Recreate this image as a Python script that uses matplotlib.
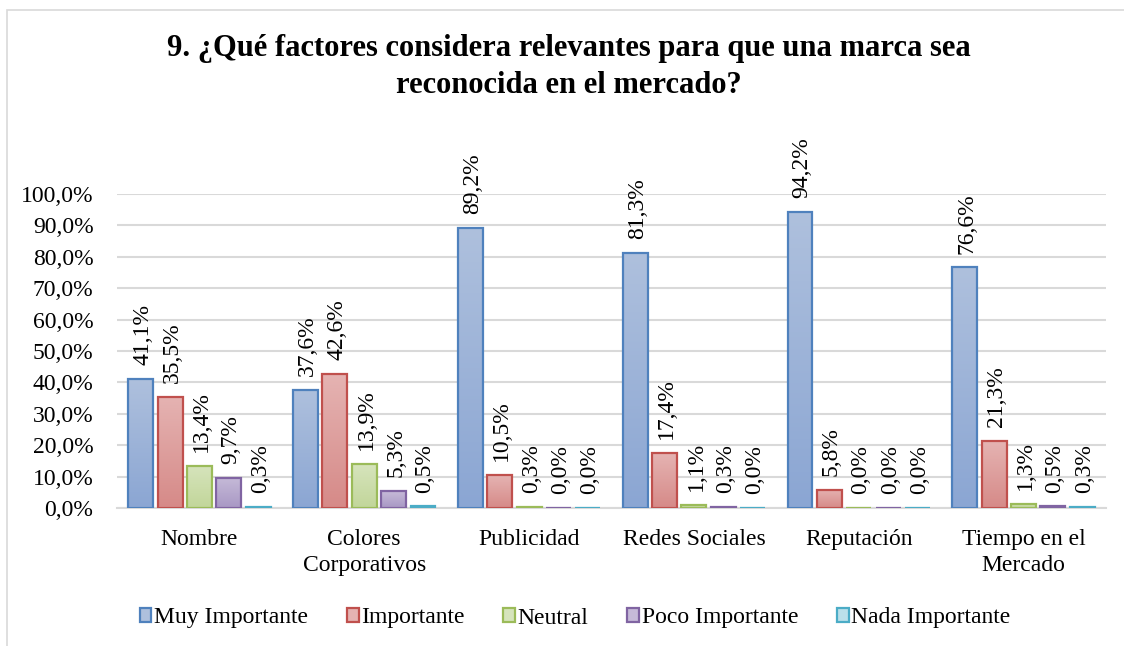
import numpy as np
import matplotlib
matplotlib.use("Agg")
import matplotlib.pyplot as plt
from matplotlib.patches import Rectangle, Patch
from matplotlib.colors import LinearSegmentedColormap

plt.rcParams['font.family'] = ['Liberation Serif', 'DejaVu Serif']

categories = ["Nombre", "Colores\nCorporativos", "Publicidad", "Redes Sociales",
              "Reputación", "Tiempo en el\nMercado"]
series_names = ["Muy Importante", "Importante", "Neutral", "Poco Importante", "Nada Importante"]
muy_importante = [41.1, 37.6, 89.2, 81.3, 94.2, 76.6]
importante = [35.5, 42.6, 10.5, 17.4, 5.8, 21.3]
neutral = [13.4, 13.9, 0.3, 1.1, 0.0, 1.3]
poco_importante = [9.7, 5.3, 0.0, 0.3, 0.0, 0.5]
nada_importante = [0.3, 0.5, 0.0, 0.0, 0.0, 0.3]
series_values = [muy_importante, importante, neutral, poco_importante, nada_importante]

title = "9. ¿Qué factores considera relevantes para que una marca sea\nreconocida en el mercado?"

edge_colors = ["#4F81BD", "#C0504D", "#9BBB59", "#8064A2", "#4BACC6"]
top_colors = ["#AEC0DD", "#E5B3B2", "#D6E4BC", "#C6BAD8", "#BBE0EA"]
bot_colors = ["#8BA6D3", "#D68A88", "#C2D69A", "#A898C4", "#98CEDD"]

FS = 17
W, H = 1124, 646
fig = plt.figure(figsize=(W / 100, H / 100), dpi=100)
ax = fig.add_axes([117 / W, 1 - 508 / H, (1106 - 117) / W, (508 - 194) / H])

# chart border
fig.add_artist(Rectangle((7 / W, -0.01), 1.2, 1 - 10 / H + 0.01, transform=fig.transFigure,
                         fill=False, edgecolor="#D9D9D9", linewidth=1.2))

n = len(series_values)
x = np.arange(len(categories))
pitch = 29.4 / 165.0
bw = 25.0 / 165.0
grad = np.linspace(0, 1, 64).reshape(-1, 1)

for i, (vals, name) in enumerate(zip(series_values, series_names)):
    offs = (i - (n - 1) / 2) * pitch
    frac = [v / 100 for v in vals]
    bars = ax.bar(x + offs, frac, width=bw, color="none", edgecolor=edge_colors[i],
                  linewidth=1.6, zorder=3, label=name)
    cmap = LinearSegmentedColormap.from_list("g%d" % i, [bot_colors[i], top_colors[i]])
    for b, v, f in zip(bars, vals, frac):
        if f > 0:
            im = ax.imshow(grad, extent=[b.get_x(), b.get_x() + bw, 0, f], origin="lower",
                           cmap=cmap, aspect="auto", zorder=2, interpolation="bicubic")
            im.set_clip_path(b)
        ax.annotate(f"{v:.1f}%".replace(".", ","), (b.get_x() + bw / 2, f),
                    xytext=(1.5, 10), textcoords="offset points", rotation=90,
                    ha="center", va="bottom", fontsize=FS, color="black", zorder=4)

ax.set_xlim(-0.5, len(categories) - 0.5)
ax.set_ylim(0, 1.0)
ax.set_yticks(np.arange(0, 1.01, 0.1))
ax.set_yticklabels([f"{t:.1f}%".replace(".", ",") for t in np.arange(0, 100.1, 10)], fontsize=FS)
ax.set_xticks(x)
ax.set_xticklabels(categories, fontsize=FS, linespacing=1.3)
ax.tick_params(axis="both", length=0)
ax.tick_params(axis="y", pad=17)
ax.tick_params(axis="x", pad=15)
ax.grid(axis="y", color="#D9D9D9", linewidth=1.5, zorder=0)
ax.set_axisbelow(True)
for s in ["top", "right", "left"]:
    ax.spines[s].set_visible(False)
ax.spines["bottom"].set_color("#D9D9D9")
ax.spines["bottom"].set_linewidth(1.5)

handles = [Patch(facecolor=top_colors[i], edgecolor=edge_colors[i], linewidth=1.6, label=series_names[i])
           for i in range(n)]
fig.legend(handles=handles, loc="center", bbox_to_anchor=(575 / W, 1 - 618 / H), ncol=5,
           frameon=False, fontsize=FS, handlelength=0.5, handleheight=0.5,
           handletextpad=0.1, columnspacing=1.65)

fig.text(569 / W, 1 - 67 / H, title, ha="center", va="center", fontsize=22,
         fontweight="bold", linespacing=1.4)

fig.savefig("out.png", dpi=100)
